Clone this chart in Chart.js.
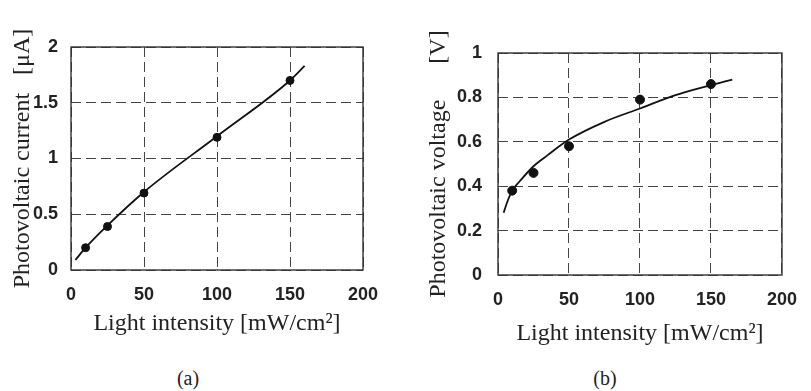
<!DOCTYPE html>
<html>
<head>
<meta charset="utf-8">
<script src="https://cdn.jsdelivr.net/npm/chart.js@4.4.0/dist/chart.umd.min.js"></script>
<style>
  body { margin: 0; background: #fff; width: 811px; height: 391px; position: relative; overflow: hidden; }
  .box { position: absolute; }
  .cap { position: absolute; font: 20px 'Liberation Serif', serif; color: #222; transform: translateX(-50%); }
</style>
</head>
<body>
<div class="box" style="left:0;top:0;width:400px;height:345px"><canvas id="chartA"></canvas></div>
<div class="box" style="left:410px;top:0;width:401px;height:355px"><canvas id="chartB"></canvas></div>
<div class="cap" style="left:188px;top:367px">(a)</div>
<div class="cap" style="left:605px;top:367px">(b)</div>

<script>
// (a) photovoltaic current vs light intensity
const intensityA = [10, 25, 50, 100, 150];
const currentA = [0.2, 0.39, 0.69, 1.19, 1.7];
const fitXA = [3, 10, 25, 50, 100, 150, 160];
const fitYA = [0.09, 0.2, 0.4, 0.7, 1.2, 1.7, 1.83];

// (b) photovoltaic voltage vs light intensity
const intensityB = [10, 25, 50, 100, 150];
const voltageB = [0.38, 0.46, 0.58, 0.79, 0.86];
const fitXB = [4, 6, 10, 15, 25, 35, 50, 75, 100, 125, 150, 165];
const fitYB = [0.28, 0.32, 0.38, 0.42, 0.49, 0.54, 0.61, 0.69, 0.75, 0.81, 0.855, 0.88];

const xTickLabels = ["0", "50", "100", "150", "200"];
const yTickLabelsA = ["0", "0.5", "1", "1.5", "2"];
const yTickLabelsB = ["0", "0.2", "0.4", "0.6", "0.8", "1"];

const tickFont = { family: "'Liberation Sans', Arial, sans-serif", size: 18, weight: "bold" };
const serif = "'Liberation Serif', 'Times New Roman', serif";

// solid frame around the plot area
const framePlugin = {
  id: "frame",
  beforeDatasetsDraw(chart) {
    const a = chart.chartArea;
    const ctx = chart.ctx;
    ctx.save();
    ctx.strokeStyle = "#333";
    ctx.lineWidth = 1.4;
    ctx.strokeRect(a.left, a.top, a.right - a.left, a.bottom - a.top);
    ctx.restore();
  }
};

function pairs(xs, ys) {
  return xs.map((x, i) => ({ x: x, y: ys[i] }));
}

function makeChart(id, opts) {
  return new Chart(document.getElementById(id), {
    type: "scatter",
    data: {
      datasets: [
        {
          data: pairs(opts.px, opts.py),
          pointRadius: opts.pointRadius,
          pointBackgroundColor: "#111",
          pointBorderColor: "#111",
          showLine: false
        },
        {
          data: pairs(opts.fx, opts.fy),
          showLine: true,
          borderColor: "#111",
          borderWidth: 1.8,
          pointRadius: 0,
          cubicInterpolationMode: "monotone"
        }
      ]
    },
    options: {
      responsive: true,
      maintainAspectRatio: false,
      animation: false,
      layout: { padding: opts.padding },
      plugins: { legend: { display: false }, tooltip: { enabled: false } },
      scales: {
        x: {
          type: "linear",
          min: 0,
          max: 200,
          afterFit: s => { s.height = opts.xHeight; },
          ticks: {
            stepSize: 50,
            padding: 14,
            color: "#222",
            font: tickFont,
            callback: (v) => xTickLabels[v / 50]
          },
          grid: { color: "#444", lineWidth: 1, drawTicks: false },
          border: { display: false, dash: [10, 5] },
          title: {
            display: true,
            text: "Light intensity [mW/cm²]",
            color: "#222",
            font: { family: serif, size: 24 },
            padding: { top: 0, bottom: 2 }
          }
        },
        y: {
          min: 0,
          max: opts.yMax,
          afterFit: s => { s.width = opts.yWidth; },
          ticks: {
            stepSize: opts.yStep,
            padding: opts.yTickPad,
            color: "#222",
            font: tickFont,
            callback: (v) => opts.yLabels[Math.round(v / opts.yStep)]
          },
          grid: { color: "#444", lineWidth: 1, drawTicks: false },
          border: { display: false, dash: [10, 5] },
          title: {
            display: true,
            text: opts.yTitle,
            color: "#222",
            font: { family: serif, size: 24 },
            padding: { top: opts.yTitlePad, bottom: 0 }
          }
        }
      }
    },
    plugins: [framePlugin]
  });
}

makeChart("chartA", {
  px: intensityA, py: currentA, fx: fitXA, fy: fitYA,
  pointRadius: 4,
  yMax: 2, yStep: 0.5, yLabels: yTickLabelsA,
  yTitle: "Photovoltaic current   [μA]",
  yWidth: 71, yTickPad: 13, yTitlePad: 8,
  xHeight: 70,
  padding: { top: 47, right: 37, bottom: 5, left: 0 }
});

makeChart("chartB", {
  px: intensityB, py: voltageB, fx: fitXB, fy: fitYB,
  pointRadius: 4.5,
  yMax: 1, yStep: 0.2, yLabels: yTickLabelsB,
  yTitle: "Photovoltaic voltage      [V]",
  yWidth: 88, yTickPad: 16, yTitlePad: 14,
  xHeight: 75,
  padding: { top: 53, right: 18, bottom: 5, left: 0 }
});
</script>
</body>
</html>
